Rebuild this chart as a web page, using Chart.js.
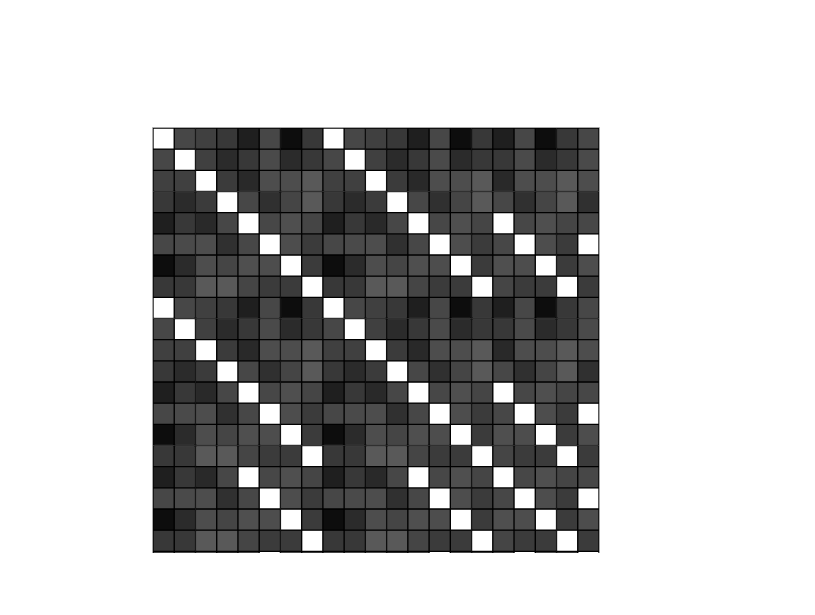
<!DOCTYPE html>
<html>
<head>
<meta charset="utf-8">
<script src="https://cdn.jsdelivr.net/npm/chart.js@4/dist/chart.umd.min.js"></script>
<style>
  html, body { margin: 0; padding: 0; background: #ffffff; }
  #wrap { width: 815px; height: 615px; position: relative; }
</style>
</head>
<body>
<div id="wrap"><canvas id="c" width="815" height="615"></canvas></div>
<script>
// Column / row labels (not shown in the figure)
const colLabels = ["C1","C2","C3","C4","C5","C6","C7","C8","C9","C10","C11","C12","C13","C14","C15","C16","C17","C18","C19","C20","C21"];
const rowLabels = ["R1","R2","R3","R4","R5","R6","R7","R8","R9","R10","R11","R12","R13","R14","R15","R16","R17","R18","R19","R20","R21"];

// Cell values (1 = white diagonal)
const row01 = [1,.28,.25,.22,.12,.28,.05,.22, 1,.28,.25,.22,.12,.28,.05,.22, .12,.28,.05,.22, .28];
const row02 = [.28,1,.25,.17,.22,.29,.17,.22, .28,1,.25,.17,.22,.29,.17,.22, .22,.29,.17,.22, .29];
const row03 = [.25,.25,1,.23,.16,.30,.30,.35, .25,.25,1,.23,.16,.30,.30,.35, .16,.30,.30,.35, .30];
const row04 = [.22,.17,.23,1,.28,.19,.27,.35, .22,.17,.23,1,.28,.19,.27,.35, .28,.19,.27,.35, .19];
const row05 = [.12,.22,.16,.28,1,.28,.31,.27, .12,.22,.16,.28,1,.28,.31,.27, 1,.28,.31,.27, .28];
const row06 = [.28,.29,.30,.19,.28,1,.30,.23, .28,.29,.30,.19,.28,1,.30,.23, .28,1,.30,.23, 1];
const row07 = [.05,.17,.30,.27,.31,.30,1,.23, .05,.17,.30,.27,.31,.30,1,.23, .31,.30,1,.23, .30];
const row08 = [.22,.22,.35,.35,.27,.23,.23,1, .22,.22,.35,.35,.27,.23,.23,1, .27,.23,.23,1, .23];
const row09 = [1,.28,.25,.22,.12,.28,.05,.22, 1,.28,.25,.22,.12,.28,.05,.22, .12,.28,.05,.22, .28];
const row10 = [.28,1,.25,.17,.22,.29,.17,.22, .28,1,.25,.17,.22,.29,.17,.22, .22,.29,.17,.22, .29];
const row11 = [.25,.25,1,.23,.16,.30,.30,.35, .25,.25,1,.23,.16,.30,.30,.35, .16,.30,.30,.35, .30];
const row12 = [.22,.17,.23,1,.28,.19,.27,.35, .22,.17,.23,1,.28,.19,.27,.35, .28,.19,.27,.35, .19];
const row13 = [.12,.22,.16,.28,1,.28,.31,.27, .12,.22,.16,.28,1,.28,.31,.27, 1,.28,.31,.27, .28];
const row14 = [.28,.29,.30,.19,.28,1,.30,.23, .28,.29,.30,.19,.28,1,.30,.23, .28,1,.30,.23, 1];
const row15 = [.05,.17,.30,.27,.31,.30,1,.23, .05,.17,.30,.27,.31,.30,1,.23, .31,.30,1,.23, .30];
const row16 = [.22,.22,.35,.35,.27,.23,.23,1, .22,.22,.35,.35,.27,.23,.23,1, .27,.23,.23,1, .23];
const row17 = [.12,.22,.16,.28,1,.28,.31,.27, .12,.22,.16,.28,1,.28,.31,.27, 1,.28,.31,.27, .28];
const row18 = [.28,.29,.30,.19,.28,1,.30,.23, .28,.29,.30,.19,.28,1,.30,.23, .28,1,.30,.23, 1];
const row19 = [.05,.17,.30,.27,.31,.30,1,.23, .05,.17,.30,.27,.31,.30,1,.23, .31,.30,1,.23, .30];
const row20 = [.22,.22,.35,.35,.27,.23,.23,1, .22,.22,.35,.35,.27,.23,.23,1, .27,.23,.23,1, .23];
const row21 = [.28,.29,.30,.19,.28,1,.30,.23, .28,.29,.30,.19,.28,1,.30,.23, .28,1,.30,.23, 1];

const matrix = [row01,row02,row03,row04,row05,row06,row07,row08,row09,row10,row11,
                row12,row13,row14,row15,row16,row17,row18,row19,row20,row21];

function grey(v) {
  const g = Math.round(Math.max(0, Math.min(1, v)) * 255);
  return `rgb(${g},${g},${g})`;
}

const datasets = matrix.map((vals, i) => ({
  label: rowLabels[i],
  data: vals.map(() => [i, i + 1]),
  backgroundColor: vals.map(grey),
  borderColor: '#000000',
  borderWidth: 1,
  borderSkipped: false,
  grouped: false,
  barPercentage: 1,
  categoryPercentage: 1,
  clip: 0
}));

const framePlugin = {
  id: 'frame',
  afterDraw(chart) {
    const a = chart.chartArea;
    const ctx = chart.ctx;
    ctx.save();
    ctx.strokeStyle = '#a8a8a8';
    ctx.lineWidth = 1;
    ctx.beginPath();
    ctx.moveTo(Math.floor(a.left) - 0.5, a.bottom);
    ctx.lineTo(Math.floor(a.left) - 0.5, Math.floor(a.top) - 0.5);
    ctx.lineTo(Math.ceil(a.right) + 0.5, Math.floor(a.top) - 0.5);
    ctx.lineTo(Math.ceil(a.right) + 0.5, a.bottom);
    ctx.stroke();
    ctx.restore();
  }
};

new Chart(document.getElementById('c'), {
  type: 'bar',
  data: { labels: colLabels, datasets },
  options: {
    responsive: false,
    animation: false,
    devicePixelRatio: 1,
    layout: { padding: { left: 153, top: 128, right: 216, bottom: 62 } },
    plugins: { legend: { display: false }, tooltip: { enabled: false } },
    scales: {
      x: { display: false, offset: true },
      y: { display: false, reverse: true, min: 0, max: 20.08 }
    }
  },
  plugins: [framePlugin]
});
</script>
</body>
</html>
